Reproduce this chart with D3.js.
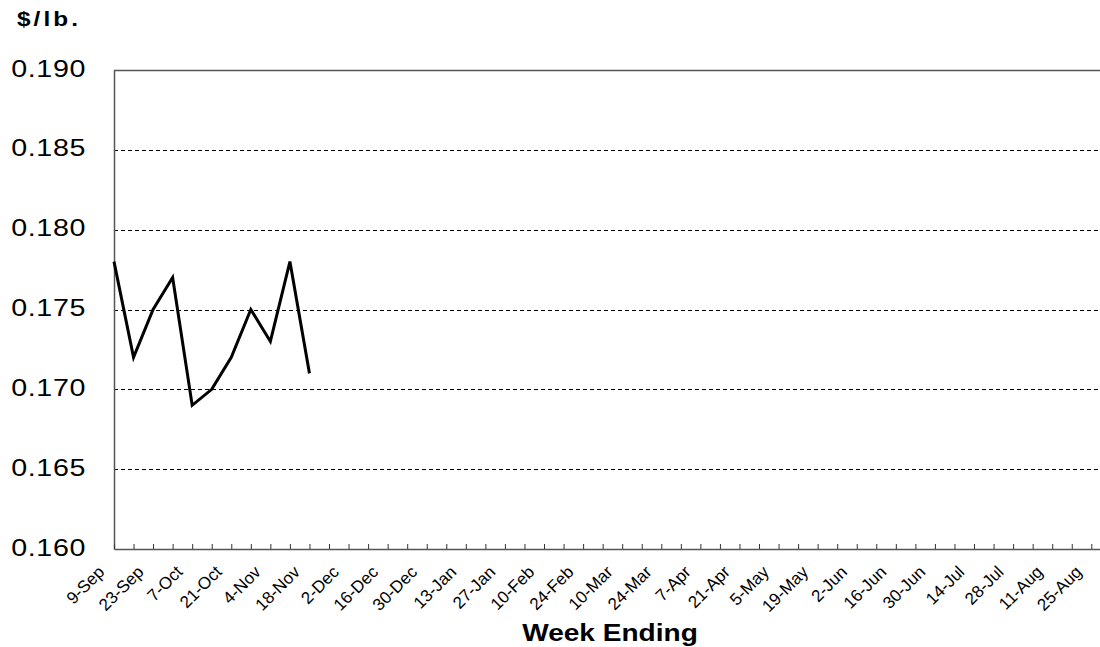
<!DOCTYPE html>
<html>
<head>
<meta charset="utf-8">
<script src="https://cdn.jsdelivr.net/npm/d3@7"></script>
<style>
  html, body { margin: 0; padding: 0; background: #fff; }
  svg { display: block; font-family: "Liberation Sans", Arial, sans-serif; }
</style>
</head>
<body>
<div id="chart"></div>
<script>
// Weekly categories (week ending)
const weeks = [
  '9-Sep', '16-Sep', '23-Sep', '30-Sep', '7-Oct', '14-Oct', '21-Oct', '28-Oct',
  '4-Nov', '11-Nov', '18-Nov', '25-Nov', '2-Dec', '9-Dec', '16-Dec', '23-Dec',
  '30-Dec', '6-Jan', '13-Jan', '20-Jan', '27-Jan', '3-Feb', '10-Feb', '17-Feb',
  '24-Feb', '3-Mar', '10-Mar', '17-Mar', '24-Mar', '31-Mar', '7-Apr', '14-Apr',
  '21-Apr', '28-Apr', '5-May', '12-May', '19-May', '26-May', '2-Jun', '9-Jun',
  '16-Jun', '23-Jun', '30-Jun', '7-Jul', '14-Jul', '21-Jul', '28-Jul', '4-Aug',
  '11-Aug', '18-Aug', '25-Aug', '1-Sep',
];

// $/lb. values, only the first weeks are reported
const prices = [0.178, 0.172, 0.175, 0.177, 0.169, 0.170, 0.172, 0.175, 0.173, 0.178, 0.171];

const yTicks = [0.160, 0.165, 0.170, 0.175, 0.180, 0.185, 0.190];

const width = 1100;
const height = 647;
const plotLeft = 114, plotTop = 70, plotBottom = 549;
const step = 19.546;
const plotRight = plotLeft + step * (weeks.length - 1);
const stretch = 1.22;

const svg = d3.select('#chart')
  .append('svg')
  .attr('width', width)
  .attr('height', height);

const x = d3.scalePoint().domain(weeks).range([plotLeft, plotRight]);
const y = d3.scaleLinear().domain([0.160, 0.190]).range([plotBottom, plotTop]);

// dashed gridlines
svg.append('g')
  .selectAll('line')
  .data(yTicks.filter((d) => d > 0.160 && d < 0.190))
  .enter()
  .append('line')
  .attr('x1', plotLeft)
  .attr('x2', plotRight)
  .attr('y1', (d) => Math.round(y(d)) + 0.5)
  .attr('y2', (d) => Math.round(y(d)) + 0.5)
  .attr('stroke', '#000')
  .attr('stroke-width', 1)
  .attr('stroke-dasharray', '4,3');

// plot frame (top border)
svg.append('line')
  .attr('x1', plotLeft).attr('x2', plotRight)
  .attr('y1', y(0.190) + 0.5).attr('y2', y(0.190) + 0.5)
  .attr('stroke', '#555')
  .attr('stroke-width', 1.5);

// y axis
const yAxis = svg.append('g')
  .attr('transform', `translate(${plotLeft},0)`)
  .call(d3.axisLeft(y).tickValues(yTicks).tickSize(0).tickFormat(d3.format('.3f')));
yAxis.select('.domain').attr('stroke', '#555').attr('stroke-width', 1.5);
yAxis.selectAll('text')
  .attr('x', null)
  .attr('dy', null)
  .attr('fill', '#000')
  .style('font-size', '23.5px')
  .style('letter-spacing', '0.5px')
  .attr('text-anchor', 'end')
  .attr('dominant-baseline', 'central')
  .attr('transform', `translate(-28,-2) scale(${stretch},1)`);

// x axis
const xAxis = svg.append('g')
  .attr('transform', `translate(0,${plotBottom})`)
  .call(d3.axisBottom(x).tickSize(-5).tickSizeOuter(0)
    .tickFormat((d, i) => (i % 2 === 0 ? d : '')));
xAxis.select('.domain').attr('stroke', '#555').attr('stroke-width', 1.5);
xAxis.selectAll('.tick line').attr('stroke', '#333');
xAxis.selectAll('text')
  .attr('y', null)
  .attr('dy', null)
  .attr('fill', '#000')
  .style('font-size', '17px')
  .attr('text-anchor', 'end')
  .attr('transform', 'translate(-9,24) rotate(-45)');

// price line
svg.append('path')
  .datum(prices)
  .attr('fill', 'none')
  .attr('stroke', '#000')
  .attr('stroke-width', 3)
  .attr('stroke-linejoin', 'miter')
  .attr('d', d3.line().x((d, i) => x(weeks[i])).y((d) => y(d)));

// titles
svg.append('text')
  .attr('transform', `translate(17,26) scale(${stretch},1)`)
  .style('font-size', '20px')
  .style('font-weight', 'bold')
  .style('letter-spacing', '2.5px')
  .text('$/lb.');

svg.append('text')
  .attr('transform', `translate(610,641) scale(${stretch},1)`)
  .attr('text-anchor', 'middle')
  .style('font-size', '23px')
  .style('font-weight', 'bold')
  .text('Week Ending');
</script>
</body>
</html>
